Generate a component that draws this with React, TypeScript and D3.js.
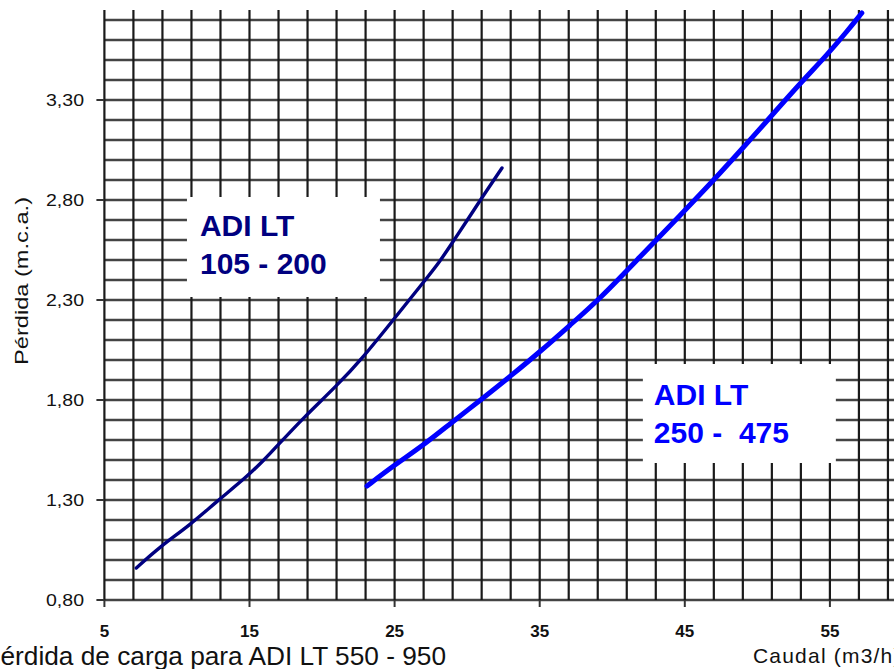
import React from "react";
import * as d3 from "d3";

const seriesSmallX = [7.2, 8.8, 10.9, 12.7, 14.8, 16.0, 16.9, 18.7, 21.0, 22.8, 24.9, 27.0, 28.1, 29.1, 30.2, 31.0, 32.4];
const seriesSmallY = [0.96, 1.065, 1.175, 1.29, 1.415, 1.5, 1.57, 1.71, 1.87, 2.01, 2.2, 2.39, 2.49, 2.6, 2.72, 2.81, 2.96];
const seriesLargeX = [23.1, 24.9, 27.0, 28.8, 31.1, 33.0, 35.0, 37.1, 39.2, 41.9, 44.7, 47.0, 49.0, 50.6, 52.9, 54.8, 56.2, 57.2];
const seriesLargeY = [1.37, 1.47, 1.575, 1.68, 1.81, 1.92, 2.04, 2.175, 2.31, 2.515, 2.725, 2.9, 3.06, 3.19, 3.38, 3.525, 3.645, 3.735];
const xTickValues = [5, 15, 25, 35, 45, 55];
const yTickValues = [0.8, 1.3, 1.8, 2.3, 2.8, 3.3];
const yTickLabels = ["0,80", "1,30", "1,80", "2,30", "2,80", "3,30"];
const labelSmall = ["ADI LT", "105 - 200"];
const labelLarge = ["ADI LT", "250 -  475"];
const yTitle = "Pérdida (m.c.a.)";
const xTitle = "Caudal (m3/h)";
const caption = "Pérdida de carga para ADI LT 550 - 950";

const W = 894;
const H = 669;
const FONT = "'Liberation Sans', Arial, Helvetica, sans-serif";

export default function App() {
  const x = d3.scaleLinear().domain([5, 60]).range([104.4, 104.4 + 55 * 14.51]);
  const y = d3.scaleLinear().domain([0.8, 3.75]).range([600, 10]);

  const vGrid = d3.range(5, 60, 2);
  const hGrid = d3.range(0, 30).map((i) => +(0.8 + i * 0.1).toFixed(2));

  const line = d3
    .line<[number, number]>()
    .x((d) => x(d[0]))
    .y((d) => y(d[1]))
    .curve(d3.curveBasis);

  const small: [number, number][] = seriesSmallX.map((v, i) => [v, seriesSmallY[i]]);
  const large: [number, number][] = seriesLargeX.map((v, i) => [v, seriesLargeY[i]]);

  const box1 = { x0: x(10.69), x1: x(23.99), y0: y(2.815), y1: y(2.315) };
  const box2 = { x0: x(42.11), x1: x(55.41), y0: y(1.98), y1: y(1.485) };

  return (
    <svg
      width={W}
      height={H}
      style={{ position: "absolute", left: 0, top: 0, background: "#fff" }}
      fontFamily={FONT}
    >
      <rect x={0} y={0} width={W} height={H} fill="#fff" />
      {hGrid.map((v) => (
        <line key={"h" + v} x1={x(5)} x2={W} y1={y(v)} y2={y(v)} stroke="#444" strokeWidth={2.5} />
      ))}
      {vGrid.map((v) => (
        <line key={"v" + v} x1={x(v)} x2={x(v)} y1={y(3.75)} y2={y(0.8)} stroke="#1a1a1a" strokeWidth={2.2} />
      ))}
      {yTickValues.map((v) => (
        <line key={"yt" + v} x1={x(5) - 8} x2={x(5)} y1={y(v)} y2={y(v)} stroke="#333" strokeWidth={2} />
      ))}
      {xTickValues.map((v) => (
        <line key={"xt" + v} x1={x(v)} x2={x(v)} y1={y(0.8)} y2={y(0.8) + 7} stroke="#333" strokeWidth={2} />
      ))}
      {yTickValues.map((v, i) => (
        <text
          key={"yl" + v}
          x={84}
          y={y(v) + 6}
          textAnchor="end"
          fontSize={16}
          fill="#111"
          textLength={38}
          lengthAdjust="spacingAndGlyphs"
        >
          {yTickLabels[i]}
        </text>
      ))}
      {xTickValues.map((v) => (
        <text key={"xl" + v} x={x(v)} y={637} textAnchor="middle" fontSize={17} fontWeight="bold" fill="#111">
          {v}
        </text>
      ))}
      <rect x={box1.x0} y={box1.y0} width={box1.x1 - box1.x0} height={box1.y1 - box1.y0} fill="#fff" />
      <rect x={box2.x0} y={box2.y0} width={box2.x1 - box2.x0} height={box2.y1 - box2.y0} fill="#fff" />
      {labelSmall.map((t, i) => (
        <text key={"ls" + i} x={box1.x0 + 13} y={236 + i * 38} fontSize={30} fontWeight="bold" fill="#000080" style={{ whiteSpace: "pre" }}>
          {t}
        </text>
      ))}
      {labelLarge.map((t, i) => (
        <text key={"ll" + i} x={box2.x0 + 11} y={405 + i * 38} fontSize={30} fontWeight="bold" fill="#0000ff" style={{ whiteSpace: "pre" }}>
          {t}
        </text>
      ))}
      <path d={line(small) || ""} fill="none" stroke="#000080" strokeWidth={3.4} strokeLinecap="round" strokeLinejoin="round" />
      <path d={line(large) || ""} fill="none" stroke="#0000ff" strokeWidth={5} strokeLinecap="round" strokeLinejoin="round" />
      <text
        transform={`translate(28, 281) rotate(-90)`}
        textAnchor="middle"
        fontSize={19}
        fill="#111"
        textLength={168}
        lengthAdjust="spacingAndGlyphs"
      >
        {yTitle}
      </text>
      <text x={753} y={663} fontSize={21} fill="#111" letterSpacing={1.2}>
        {xTitle}
      </text>
      <text x={-17} y={665} fontSize={26} fill="#111" textLength={463} lengthAdjust="spacingAndGlyphs">
        {caption}
      </text>
    </svg>
  );
}
